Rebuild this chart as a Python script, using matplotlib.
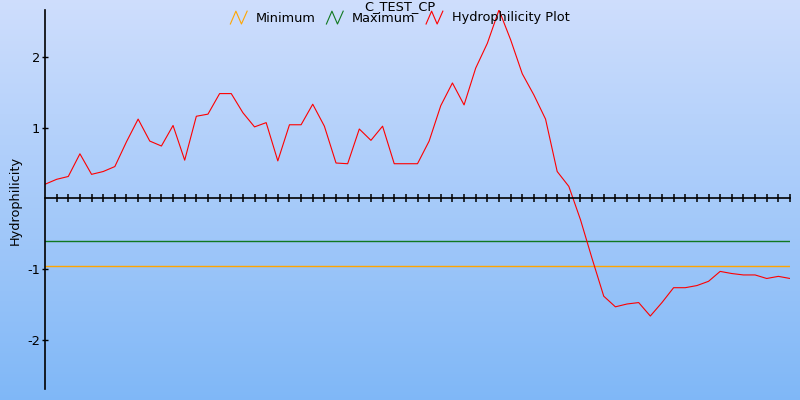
import numpy as np
import matplotlib
matplotlib.use("Agg")
import matplotlib.pyplot as plt
from matplotlib.lines import Line2D
from matplotlib.legend_handler import HandlerBase

# data
title = "C_TEST_CP"
ylabel = "Hydrophilicity"
hydro = [0.20, 0.27, 0.31, 0.63, 0.34, 0.38, 0.45, 0.80, 1.12, 0.81,
         0.74, 1.03, 0.54, 1.16, 1.19, 1.48, 1.48, 1.21, 1.01, 1.07,
         0.53, 1.04, 1.04, 1.33, 1.02, 0.50, 0.49, 0.98, 0.82, 1.02,
         0.49, 0.49, 0.49, 0.81, 1.31, 1.63, 1.32, 1.84, 2.19, 2.66,
         2.24, 1.76, 1.46, 1.12, 0.38, 0.17, -0.30, -0.85, -1.38, -1.53,
         -1.49, -1.47, -1.66, -1.47, -1.26, -1.26, -1.23, -1.17, -1.03, -1.06,
         -1.08, -1.08, -1.13, -1.10, -1.13]
minimum = -0.95
maximum = -0.60
yticks = [-2, -1, 1, 2]

x = np.arange(len(hydro))


class ZigzagHandler(HandlerBase):
    # little "/\/" glyph like the reference legend
    def create_artists(self, legend, orig_handle, xdescent, ydescent,
                       width, height, fontsize, trans):
        xs = np.array([0, 0.33, 0.66, 1.0]) * width - xdescent
        ys = np.array([-0.15, 1.05, -0.15, 1.05]) * height - ydescent
        ln = Line2D(xs, ys, color=orig_handle.get_color(), lw=0.8)
        ln.set_transform(trans)
        return [ln]


fig = plt.figure(figsize=(8, 4), dpi=100)

# gradient background
bg = fig.add_axes([0, 0, 1, 1], zorder=-1)
grad = np.linspace(0, 1, 256).reshape(-1, 1)
top = np.array([0.81, 0.87, 0.99])
bot = np.array([0.50, 0.72, 0.97])
img = top + (bot - top) * grad[:, :, None]
bg.imshow(img, aspect="auto", extent=[0, 1, 0, 1])
bg.axis("off")

ax = fig.add_axes([0.05625, 0.0275, 0.93125, 0.9475])
ax.patch.set_alpha(0)

l_min = ax.axhline(minimum, color="#ffa500", lw=1.0)
l_max = ax.axhline(maximum, color="#107820", lw=1.0)
l_hyd, = ax.plot(x, hydro, color="#ff0000", lw=0.8)

ax.set_xlim(0, len(hydro) - 1)
ax.set_ylim(-2.69, 2.66)

ax.spines["top"].set_visible(False)
ax.spines["right"].set_visible(False)
ax.spines["bottom"].set_position(("data", 0))
ax.spines["left"].set_linewidth(1.2)
ax.spines["bottom"].set_linewidth(1.2)

ax.set_xticks(x[1:])
ax.tick_params(axis="x", direction="inout", length=6, width=1.1, labelbottom=False)
ax.set_yticks(yticks)
ax.set_yticklabels([str(t) for t in yticks])
ax.tick_params(axis="y", direction="inout", length=5, width=1, labelsize=9.3, pad=1)

fig.text(0.019, 0.5, ylabel, rotation=90, ha="center", va="center", fontsize=9.3)
fig.text(0.5, 1.0, title, ha="center", va="top", fontsize=9.3)

fig.legend([l_min, l_max, l_hyd], ["Minimum", "Maximum", "Hydrophilicity Plot"],
           handler_map={Line2D: ZigzagHandler()},
           loc="center", bbox_to_anchor=(0.5, 0.955), ncol=3, frameon=False,
           fontsize=9.3, handlelength=1.3, handletextpad=0.7, columnspacing=0.8,
           borderpad=0, handleheight=0.9)

fig.savefig("out.png", dpi=100)
